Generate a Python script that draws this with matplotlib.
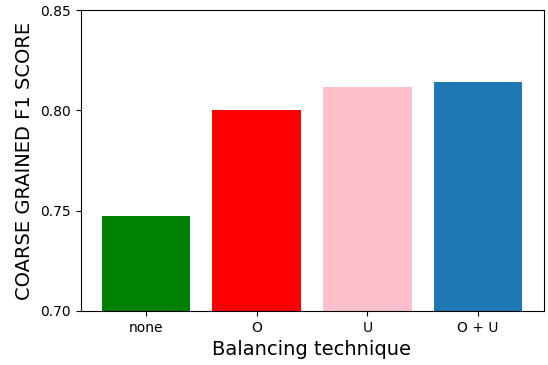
import matplotlib
matplotlib.use("Agg")
import matplotlib.pyplot as plt

techniques = ["none", "O", "U", "O + U"]
f1_scores = [0.7474, 0.8003, 0.8117, 0.8142]
bar_colors = ["green", "red", "pink", "tab:blue"]

fig = plt.figure(figsize=(5.48, 3.65), dpi=100)
ax = fig.add_axes([80.5 / 548, 1 - 311 / 365, (543.5 - 80.5) / 548, 301 / 365])

ax.bar(techniques, f1_scores, color=bar_colors, width=0.8)
ax.set_ylim(0.70, 0.85)
ax.set_yticks([0.70, 0.75, 0.80, 0.85])
ax.tick_params(labelsize=10)
ax.set_xlabel("Balancing technique", fontsize=14)
ax.set_ylabel("COARSE GRAINED F1 SCORE", fontsize=14)

fig.savefig("out.png", dpi=100)
